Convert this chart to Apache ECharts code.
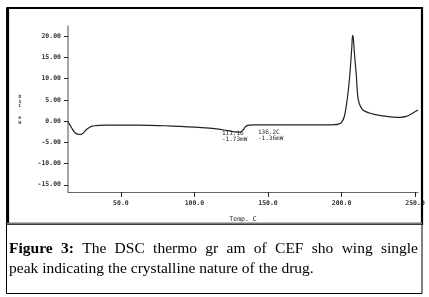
<!DOCTYPE html>
<html><head><meta charset="utf-8">
<script src="https://cdn.jsdelivr.net/npm/echarts@6/dist/echarts.min.js"></script>
<style>html,body{margin:0;padding:0;background:#fff}#c{width:429px;height:297px}</style>
</head><body><div id="c"></div>
<script>
var temps = [14,15,16,17,18,19,20,21,22,23,24,25,26,27,28,29,30,32,35,40,50,60,70,80,90,100,110,115,120,125,128,131,133,135,137,140,150,160,170,180,190,195,198,200,202,204,205,206,207,207.5,208,209,210,211,212,214,216,220,225,230,235,240,244,248,252];
var heatFlow = [-0.15,-0.7,-1.3,-1.9,-2.4,-2.8,-3.0,-3.1,-3.15,-3.1,-2.9,-2.6,-2.2,-1.85,-1.6,-1.4,-1.25,-1.1,-1.0,-0.95,-0.95,-0.95,-1.0,-1.1,-1.25,-1.4,-1.65,-1.85,-2.1,-2.4,-2.55,-2.6,-2.1,-1.2,-0.95,-0.9,-0.9,-0.9,-0.9,-0.9,-0.9,-0.85,-0.7,-0.3,1.2,5.5,8.5,12.5,17.5,20.2,19.5,15,11,6,4.2,2.8,2.3,1.8,1.4,1.15,0.95,0.9,1.1,1.8,2.6];
var yTicks = [-15,-10,-5,0,5,10,15,20];
var xTicks = [50,100,150,200,250];
var annotations = [
  {coord:[118.7,-2.1], text:'111.16\n-1.73mW'},
  {coord:[143.2,-1.9], text:'136.2C\n-1.36mW'}
];
var yAxisNameTop = 'D\nS\nC';
var yAxisNameBottom = 'm\nW';
var xAxisName = 'Temp. C';
var captionLine1 = [['Figure',true],['3:',true],['The',false],['DSC',false],['thermo',false],['gr',false],['am',false],['of',false],['CEF',false],['sho',false],['wing',false],['single',false]];
var captionLine2 = 'peak indicating the crystalline nature of the drug.';

var chart = echarts.init(document.getElementById('c'), null, {renderer:'canvas'});
var capFont = 15.5, capFam = '"Liberation Serif", "DejaVu Serif", serif';
var cv = document.createElement('canvas').getContext('2d');
function w(t,b){cv.font=(b?'bold ':'')+capFont+'px '+capFam;return cv.measureText(t).width;}
var total=0; captionLine1.forEach(function(p){total+=w(p[0],p[1]);});
var left=9, right=418, gap=(right-left-total)/(captionLine1.length-1);
var capEls=[]; var cx=left;
captionLine1.forEach(function(p){
  capEls.push({type:'text',x:cx,y:257,z:10,style:{text:p[0],fontFamily:capFam,fontSize:capFont,fontWeight:p[1]?'bold':'normal',fill:'#000',textVerticalAlign:'bottom'}});
  cx+=w(p[0],p[1])+gap;
});
capEls.push({type:'text',x:left,y:277,z:10,style:{text:captionLine2,fontFamily:capFam,fontSize:capFont,fill:'#000',textVerticalAlign:'bottom'}});

var mono = '"DejaVu Sans Mono", "Liberation Mono", monospace';
var option = {
  animation:false,
  backgroundColor:'#fff',
  grid:{left:68,top:26,right:11,bottom:105},
  xAxis:{type:'value',min:14,max:252,name:xAxisName,nameLocation:'middle',nameGap:24,
    nameTextStyle:{fontFamily:mono,fontSize:6.5,color:'#222'},
    axisLine:{onZero:false,lineStyle:{color:'#666',width:1}},
    axisTick:{customValues:xTicks,length:5,lineStyle:{color:'#222'}},
    axisLabel:{customValues:xTicks,formatter:function(v){return v.toFixed(1);},fontFamily:mono,fontSize:6.5,fontWeight:'bold',color:'#333',margin:8},
    splitLine:{show:false}},
  yAxis:{type:'value',min:-16.7,max:22.4,
    axisLine:{show:true,onZero:false,lineStyle:{color:'#888',width:1.5}},
    axisTick:{show:true,customValues:yTicks,length:4,lineStyle:{color:'#222'}},
    axisLabel:{customValues:yTicks,formatter:function(v){return v.toFixed(2);},fontFamily:mono,fontSize:6.5,fontWeight:'bold',color:'#333',margin:7},
    splitLine:{show:false}},
  series:[{type:'line',data:temps.map(function(t,i){return [t,heatFlow[i]];}),showSymbol:false,smooth:0.3,
    lineStyle:{color:'#222',width:1.2},
    markPoint:{symbolSize:0,data:annotations.map(function(a){return {coord:a.coord,label:{show:true,formatter:a.text,position:'inside',align:'left',verticalAlign:'top',fontFamily:mono,fontSize:6,lineHeight:6.5,color:'#222'}};})}}],
  graphic:[
    {type:'text',x:18.5,y:95,z:10,style:{text:yAxisNameTop,fontFamily:mono,fontSize:4.5,lineHeight:4.3,fontWeight:'bold',fill:'#333'}},
    {type:'text',x:18.5,y:116,z:10,style:{text:yAxisNameBottom,fontFamily:mono,fontSize:4.5,lineHeight:4.5,fontWeight:'bold',fill:'#333'}},
    {type:'rect',shape:{x:6.5,y:224,width:415.5,height:69.5},style:{fill:null,stroke:'#000',lineWidth:1},z:10},
    {type:'rect',shape:{x:0,y:0,width:414.5,height:216},x:7.5,y:8,style:{fill:null,stroke:'#000',lineWidth:2.2},z:11},
    {type:'line',shape:{x1:7.6,y1:8,x2:7.6,y2:224},style:{stroke:'#000',lineWidth:3},z:11},
    {type:'line',shape:{x1:7,y1:223.5,x2:422,y2:223.5},style:{stroke:'#777',lineWidth:1.8},z:12}
  ].concat(capEls)
};
chart.setOption(option);
</script></body></html>
